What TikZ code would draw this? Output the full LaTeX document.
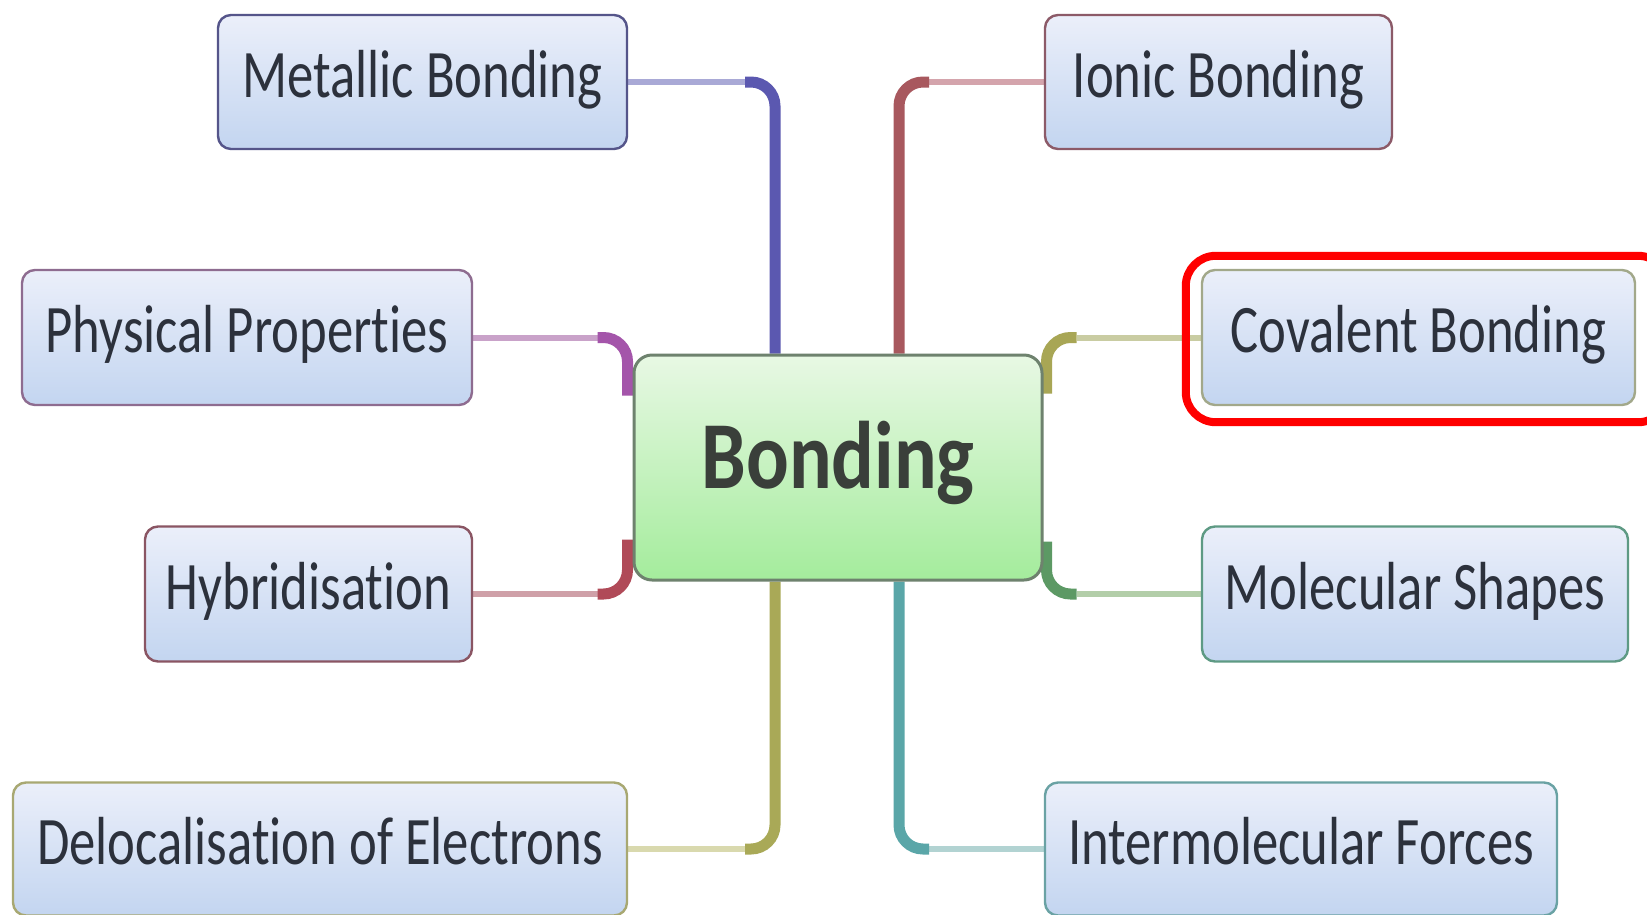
\documentclass[tikz,border=0pt]{standalone}
\usepackage{fontspec}
\setmainfont{Carlito}
\newfontfamily\labfont[FakeStretch=0.775,Ligatures={NoCommon}]{Carlito}
\newfontfamily\hubfont[FakeStretch=0.83,Ligatures={NoCommon}]{Carlito}
\usetikzlibrary{calc,backgrounds}
\definecolor{metB}{HTML}{55558A}\definecolor{metL}{HTML}{A9A9D6}\definecolor{metD}{HTML}{5B58B0}
\definecolor{ionB}{HTML}{8C5A68}\definecolor{ionL}{HTML}{D4A4AC}\definecolor{ionD}{HTML}{A8585E}
\definecolor{phyB}{HTML}{8E6C90}\definecolor{phyL}{HTML}{C9A2C9}\definecolor{phyD}{HTML}{A455AA}
\definecolor{hybB}{HTML}{8A5563}\definecolor{hybL}{HTML}{CFA0A8}\definecolor{hybD}{HTML}{B04A58}
\definecolor{covB}{HTML}{A2A88A}\definecolor{covL}{HTML}{C9CCA2}\definecolor{covD}{HTML}{A8A655}
\definecolor{molB}{HTML}{5E9A84}\definecolor{molL}{HTML}{B3CEA9}\definecolor{molD}{HTML}{5C9964}
\definecolor{delB}{HTML}{A8A872}\definecolor{delL}{HTML}{D9D9AE}\definecolor{delD}{HTML}{A9A957}
\definecolor{intB}{HTML}{6AA2A4}\definecolor{intL}{HTML}{B2D3D2}\definecolor{intD}{HTML}{5AA6A8}
\definecolor{boxtop}{HTML}{EBEFFA}\definecolor{boxbot}{HTML}{C3D5F0}
\definecolor{hubtop}{HTML}{E8F8E4}\definecolor{hubbot}{HTML}{A4EC9C}\definecolor{hubB}{HTML}{6E826E}
\definecolor{labtext}{HTML}{2C313C}\definecolor{hubtext}{HTML}{3A3F3A}
\definecolor{hilite}{HTML}{FF0000}
\begin{document}
\begin{tikzpicture}[x=1pt,y=-1pt,
  topic/.style={draw, line width=2.4pt, rounded corners=13pt, top color=boxtop, bottom color=boxbot,
    minimum height=134pt, inner sep=0pt, text=labtext,
    font=\labfont\fontsize{68}{80}\selectfont, text height=44pt, text depth=14pt},
  hub/.style={draw=hubB, line width=3pt, rounded corners=18pt, top color=hubtop, bottom color=hubbot,
    minimum width=408pt, minimum height=225pt, inner sep=0pt, text=hubtext,
    font=\hubfont\bfseries\fontsize{96}{110}\selectfont, text height=62pt, text depth=20pt},
  twig/.style={line width=6pt},
  limb/.style={line width=11pt, rounded corners=24pt},
  ring/.style={draw=hilite, line width=8pt, rounded corners=30pt}
]
\useasboundingbox (0,0) rectangle (1647,914);

\node[hub] (bond) at (838,467.5) {Bonding};
\node[topic, draw=metB, minimum width=409pt] (metal) at (422.5,82) {Metallic Bonding};
\node[topic, draw=ionB, minimum width=347pt] (ionic) at (1218.5,82) {Ionic Bonding};
\node[topic, draw=phyB, minimum width=450pt, minimum height=135pt] (phys) at (247,337.5) {Physical Properties};
\node[topic, draw=covB, minimum width=433pt, minimum height=135pt] (cov) at (1418.5,337.5) {Covalent Bonding};
\node[topic, draw=hybB, minimum width=327pt, minimum height=135pt] (hybr) at (308.5,594) {Hybridisation};
\node[topic, draw=molB, minimum width=426pt, minimum height=135pt] (molec) at (1415,594) {Molecular Shapes};
\node[topic, draw=delB, minimum width=614pt, minimum height=133pt] (deloc) at (320,849) {Delocalisation of Electrons};
\node[topic, draw=intB, minimum width=512pt, minimum height=133pt] (inter) at (1301,849) {Intermolecular Forces};

\draw[ring] ($(cov.north west)+(-15,-13)$) rectangle ($(cov.south east)+(32,16)$);

\begin{scope}[on background layer]
  \fill[white] (0,0) rectangle (1647,914);
  % Metallic
  \coordinate (mc) at ($(bond.north)+(-63,0)$);
  \coordinate (mk) at (mc |- metal.east);
  \draw[twig, metL] (metal.east) -- ($(mk)+(-30,0)$);
  \draw[limb, metD] ($(mk)+(-30,0)$) -- (mk) -- (mc);
  % Ionic
  \coordinate (ic) at ($(bond.north)+(61,0)$);
  \coordinate (ik) at (ic |- ionic.west);
  \draw[twig, ionL] (ionic.west) -- ($(ik)+(30,0)$);
  \draw[limb, ionD] ($(ik)+(30,0)$) -- (ik) -- (ic);
  % Delocalisation
  \coordinate (dc) at ($(bond.south)+(-63,0)$);
  \coordinate (dk) at (dc |- deloc.east);
  \draw[twig, delL] (deloc.east) -- ($(dk)+(-30,0)$);
  \draw[limb, delD] ($(dk)+(-30,0)$) -- (dk) -- (dc);
  % Intermolecular
  \coordinate (tc) at ($(bond.south)+(61,0)$);
  \coordinate (tk) at (tc |- inter.west);
  \draw[twig, intL] (inter.west) -- ($(tk)+(30,0)$);
  \draw[limb, intD] ($(tk)+(30,0)$) -- (tk) -- (tc);
  % Physical
  \coordinate (pk) at ($(bond.west |- phys.east)+(-5,0)$);
  \coordinate (pe) at ($(bond.north west)+(-5,42)$);
  \draw[twig, phyL] (phys.east) -- ($(pk)+(-30,0)$);
  \draw[limb, phyD] ($(pk)+(-30,0)$) -- (pk) -- (pe);
  % Hybridisation
  \coordinate (hk) at ($(bond.west |- hybr.east)+(-5,0)$);
  \coordinate (he) at ($(bond.south west)+(-5,-42)$);
  \draw[twig, hybL] (hybr.east) -- ($(hk)+(-30,0)$);
  \draw[limb, hybD] ($(hk)+(-30,0)$) -- (hk) -- (he);
  % Covalent
  \coordinate (ck) at ($(bond.east |- cov.west)+(3,0)$);
  \coordinate (ce) at ($(bond.north east)+(3,40)$);
  \draw[twig, covL] (cov.west) -- ($(ck)+(30,0)$);
  \draw[limb, covD] ($(ck)+(30,0)$) -- (ck) -- (ce);
  % Molecular
  \coordinate (qk) at ($(bond.east |- molec.west)+(3,0)$);
  \coordinate (qe) at ($(bond.south east)+(3,-40)$);
  \draw[twig, molL] (molec.west) -- ($(qk)+(30,0)$);
  \draw[limb, molD] ($(qk)+(30,0)$) -- (qk) -- (qe);
\end{scope}
\end{tikzpicture}
\end{document}
